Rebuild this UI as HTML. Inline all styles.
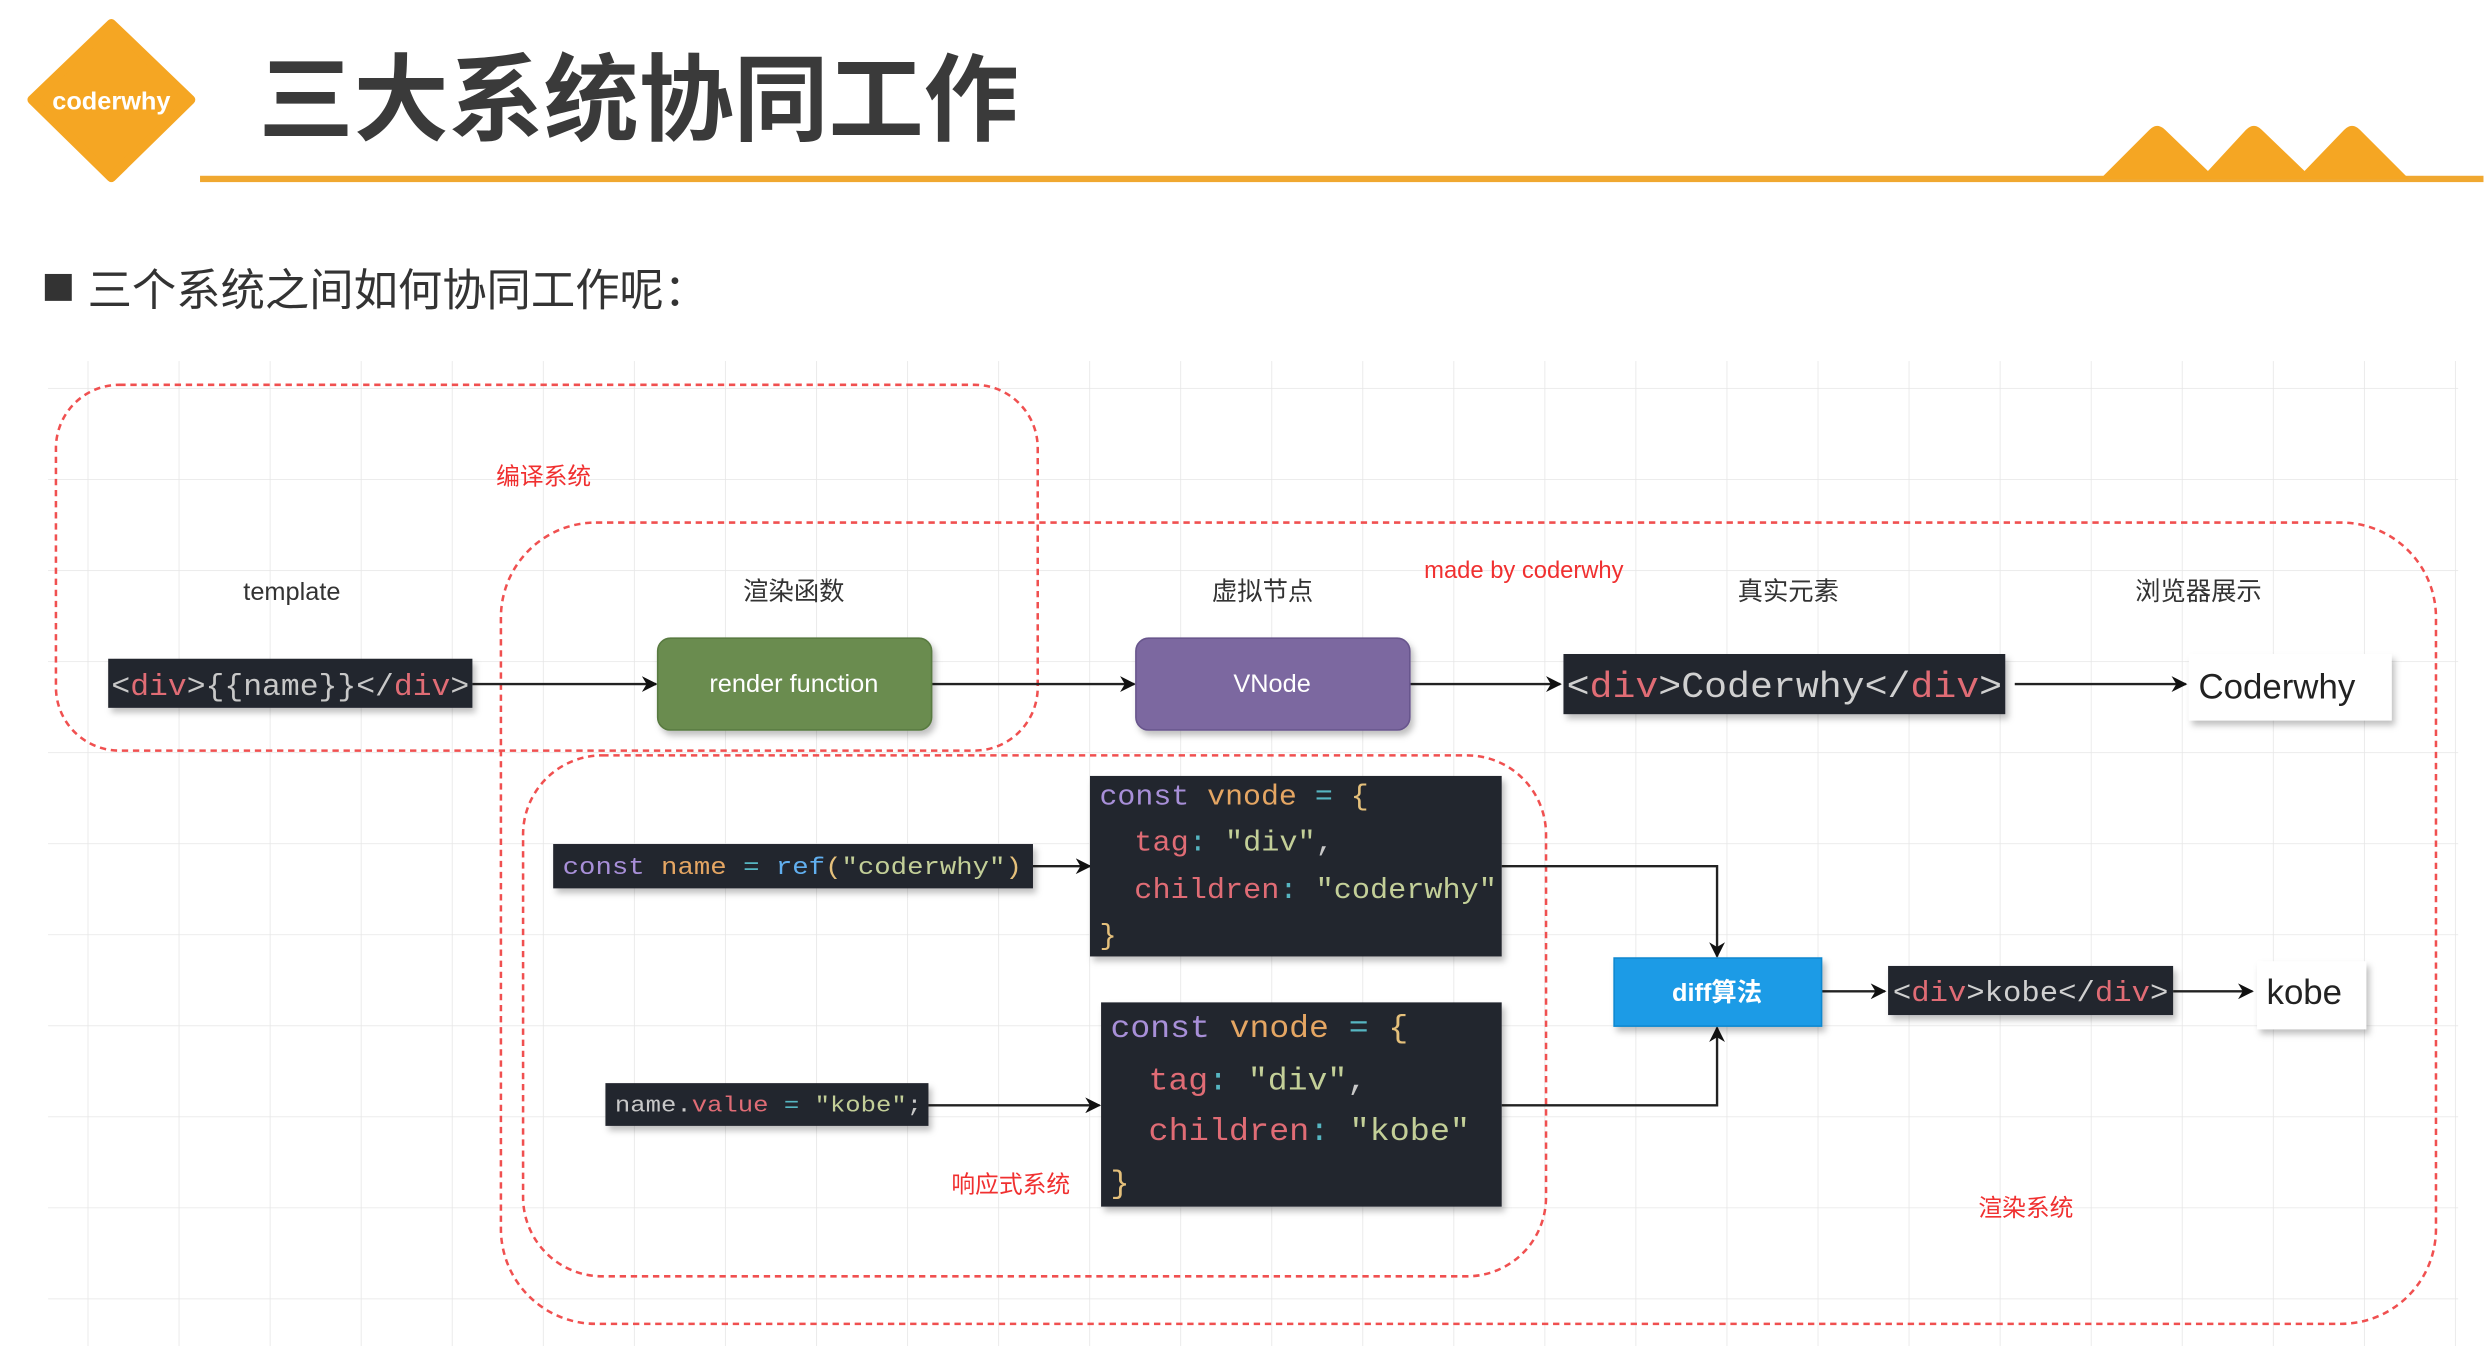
<!DOCTYPE html>
<html><head><meta charset="utf-8"><style>
html,body{margin:0;padding:0;background:#fff;}
svg{display:block;}
.cn{font-family:"Liberation Sans","Noto Sans CJK SC",sans-serif;}
.mono{font-family:"Liberation Mono","DejaVu Sans Mono",monospace;}
</style></head><body>
<svg width="2484" height="1346" viewBox="0 0 1568 850" xmlns="http://www.w3.org/2000/svg">
<defs>
<pattern id="g" x="55" y="245" width="57.5" height="57.5" patternUnits="userSpaceOnUse">
<path d="M0 0H57.5M0 0V57.5" stroke="#e6e6e6" stroke-width="1" fill="none"/>
</pattern>
<marker id="a" markerWidth="10" markerHeight="10" refX="9" refY="5" orient="auto" markerUnits="userSpaceOnUse">
<path d="M0 0L10 5L0 10L3 5Z" fill="#111"/>
</marker>
<filter id="sh" x="-10%" y="-20%" width="130%" height="160%"><feDropShadow dx="2" dy="3" stdDeviation="2" flood-color="#000" flood-opacity="0.25"/></filter>
</defs>
<rect width="1568" height="850" fill="#fff"/>
<path d="M70 15 L120 63 L70 112 L20 63 Z" fill="#f5a623" stroke="#f5a623" stroke-width="6" stroke-linejoin="round"/>
<text x="70" y="69" text-anchor="middle" class="cn" font-size="16" font-weight="bold" fill="#fff">coderwhy</text>
<text x="163" y="84" class="cn" font-size="60" font-weight="bold" fill="#3a3a3a">三大系统协同工作</text>
<rect x="126" y="111" width="1442" height="4" fill="#f0a830"/>
<path d="M1326 113 L1357 82 Q1362 77 1367 82 L1394 108 L1418 82 Q1423 77 1428 82 L1455 108 L1480 82 Q1485 77 1490 82 L1521 113 Z" fill="#f5a623"/>
<rect x="28" y="173" width="17" height="17" fill="#333"/>
<text x="55" y="193" class="cn" font-size="28" fill="#333">三个系统之间如何协同工作呢：</text>
<rect x="30" y="228" width="1522" height="622" fill="url(#g)"/>
<g fill="none" stroke="#f05050" stroke-width="1.6" stroke-dasharray="4 3">
<rect x="35" y="243" width="620" height="231" rx="40"/>
<rect x="316" y="330" width="1222" height="506" rx="60"/>
<rect x="330" y="477" width="646" height="329" rx="50"/>
</g>
<g class="cn" fill="#f03030" font-size="15" text-anchor="middle">
<text x="343" y="306">编译系统</text>
<text x="962" y="365">made by coderwhy</text>
<text x="638" y="753">响应式系统</text>
<text x="1279" y="768">渲染系统</text>
</g>
<g class="cn" fill="#333" font-size="16" text-anchor="middle">
<text x="184" y="379">template</text>
<text x="501" y="379">渲染函数</text>
<text x="797" y="379">虚拟节点</text>
<text x="1129" y="379">真实元素</text>
<text x="1388" y="379">浏览器展示</text>
</g>
<g stroke="#222" stroke-width="1.5" fill="none" marker-end="url(#a)">
<path d="M298 432H414"/>
<path d="M588 432H716"/>
<path d="M890 432H985"/>
<path d="M1272 432H1380"/>
<path d="M652 547H688"/>
<path d="M586 698H694"/>
<path d="M948 547H1084V604"/>
<path d="M948 698H1084V649"/>
<path d="M1150 626H1190"/>
<path d="M1372 626H1422"/>
</g>
<rect x="68" y="416" width="230" height="31" fill="#23252e" filter="url(#sh)"/>
<text x="70" y="439" class="mono" font-size="19" fill="#c8c8c8" textLength="226" lengthAdjust="spacingAndGlyphs">&lt;<tspan fill="#e06c75">div</tspan>&gt;{{name}}&lt;/<tspan fill="#e06c75">div</tspan>&gt;</text>
<rect x="415" y="403" width="173" height="58" rx="8" fill="#6a8c4f" stroke="#587a40" filter="url(#sh)"/>
<text x="501" y="437" text-anchor="middle" class="cn" font-size="16" fill="#fff">render function</text>
<rect x="717" y="403" width="173" height="58" rx="8" fill="#7b68a0" stroke="#67558c" filter="url(#sh)"/>
<text x="803" y="437" text-anchor="middle" class="cn" font-size="16" fill="#fff">VNode</text>
<rect x="987" y="413" width="279" height="38" fill="#23252e" filter="url(#sh)"/>
<text x="989" y="440" class="mono" font-size="23" fill="#d0d0d0" textLength="275" lengthAdjust="spacingAndGlyphs">&lt;<tspan fill="#e06c75">div</tspan>&gt;Coderwhy&lt;/<tspan fill="#e06c75">div</tspan>&gt;</text>
<rect x="1382" y="413" width="128" height="42" fill="#fff" filter="url(#sh)"/>
<text x="1388" y="441" class="cn" font-size="22" fill="#222">Coderwhy</text>
<rect x="349" y="533" width="303" height="28" fill="#23252e" filter="url(#sh)"/>
<text x="355" y="552" class="mono" font-size="15" fill="#56b6c2" textLength="290" lengthAdjust="spacingAndGlyphs"><tspan fill="#a88fd8">const</tspan> <tspan fill="#e5a663">name</tspan> = <tspan fill="#61afef">ref</tspan><tspan fill="#e5c07b">(</tspan><tspan fill="#c3cf98">"coderwhy"</tspan><tspan fill="#e5c07b">)</tspan></text>
<rect x="382" y="684" width="204" height="27" fill="#23252e" filter="url(#sh)"/>
<text x="388" y="702" class="mono" font-size="14" fill="#56b6c2" textLength="194" lengthAdjust="spacingAndGlyphs"><tspan fill="#c8c8c8">name.</tspan><tspan fill="#e06c75">value</tspan> = <tspan fill="#c3cf98">"kobe"</tspan><tspan fill="#c8c8c8">;</tspan></text>
<rect x="688" y="490" width="260" height="114" fill="#23252e" filter="url(#sh)"/>
<g class="mono" font-size="18">
<text x="694" y="508" fill="#56b6c2" textLength="170" lengthAdjust="spacingAndGlyphs"><tspan fill="#a88fd8">const</tspan> <tspan fill="#e5a663">vnode</tspan> = <tspan fill="#e5c07b">{</tspan></text>
<text x="716" y="537" fill="#56b6c2" textLength="126" lengthAdjust="spacingAndGlyphs"><tspan fill="#e06c75">tag</tspan>: <tspan fill="#c3cf98">"div"</tspan><tspan fill="#c8c8c8">,</tspan></text>
<text x="716" y="567" fill="#56b6c2" textLength="229" lengthAdjust="spacingAndGlyphs"><tspan fill="#e06c75">children</tspan>: <tspan fill="#c3cf98">"coderwhy"</tspan></text>
<text x="694" y="596" fill="#e5c07b">}</text>
</g>
<rect x="695" y="633" width="253" height="129" fill="#23252e" filter="url(#sh)"/>
<g class="mono" font-size="20">
<text x="701" y="655" fill="#56b6c2" textLength="188" lengthAdjust="spacingAndGlyphs"><tspan fill="#a88fd8">const</tspan> <tspan fill="#e5a663">vnode</tspan> = <tspan fill="#e5c07b">{</tspan></text>
<text x="725" y="688" fill="#56b6c2" textLength="138" lengthAdjust="spacingAndGlyphs"><tspan fill="#e06c75">tag</tspan>: <tspan fill="#c3cf98">"div"</tspan><tspan fill="#c8c8c8">,</tspan></text>
<text x="725" y="720" fill="#56b6c2" textLength="203" lengthAdjust="spacingAndGlyphs"><tspan fill="#e06c75">children</tspan>: <tspan fill="#c3cf98">"kobe"</tspan></text>
<text x="701" y="753" fill="#e5c07b">}</text>
</g>
<rect x="1019" y="605" width="131" height="43" fill="#1a9be6" stroke="#1188d0" filter="url(#sh)"/>
<text x="1084" y="632" text-anchor="middle" class="cn" font-size="16" font-weight="bold" fill="#fff">diff算法</text>
<rect x="1192" y="610" width="180" height="31" fill="#23252e" filter="url(#sh)"/>
<text x="1195" y="632" class="mono" font-size="18" fill="#d0d0d0" textLength="174" lengthAdjust="spacingAndGlyphs">&lt;<tspan fill="#e06c75">div</tspan>&gt;kobe&lt;/<tspan fill="#e06c75">div</tspan>&gt;</text>
<rect x="1425" y="607" width="69" height="43" fill="#fff" filter="url(#sh)"/>
<text x="1431" y="634" class="cn" font-size="22" fill="#222">kobe</text>
</svg>
</body></html>
